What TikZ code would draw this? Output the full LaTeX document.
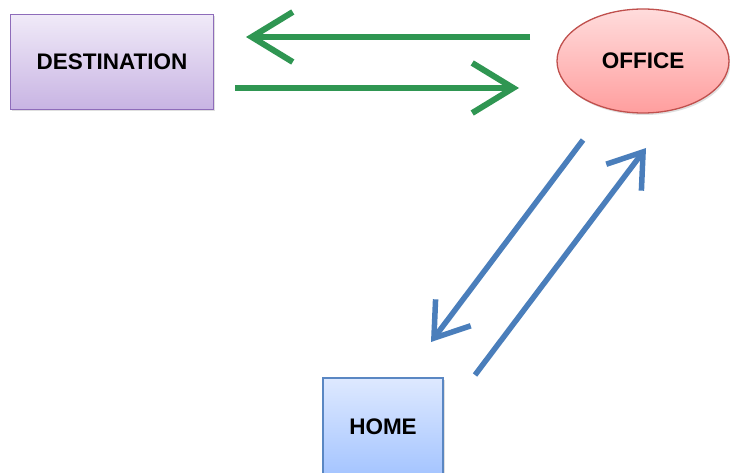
\documentclass[tikz,border=0pt]{standalone}
\usepackage{fontspec}
\setmainfont{Liberation Sans}
\usetikzlibrary{arrows.meta,shadows,shapes.geometric}
\definecolor{grn}{HTML}{2F9652}
\definecolor{blu}{HTML}{4A7EBB}
\definecolor{desttop}{HTML}{F0EAF8}
\definecolor{destbot}{HTML}{C8B4E3}
\definecolor{destline}{HTML}{8E6CBA}
\definecolor{offtop}{HTML}{FFDCDC}
\definecolor{offbot}{HTML}{FF9E9E}
\definecolor{offline}{HTML}{C0504D}
\definecolor{hometop}{HTML}{DEE9FF}
\definecolor{homebot}{HTML}{A4C4FF}
\definecolor{homeline}{HTML}{5A87C3}
\tikzset{
  lbl/.style={font=\fontsize{22.5}{25}\selectfont\bfseries, text=black},
  boxshadow/.style={drop shadow={opacity=0.25, shadow xshift=1.5pt, shadow yshift=-2pt}},
  destbox/.style={lbl, rectangle, draw=destline, line width=1.3pt,
    top color=desttop, bottom color=destbot, minimum width=203pt, minimum height=95pt, inner sep=0pt, boxshadow},
  offell/.style={lbl, ellipse, draw=offline, line width=1.3pt,
    top color=offtop, bottom color=offbot, minimum width=172pt, minimum height=104pt, inner sep=0pt, boxshadow},
  homebox/.style={lbl, rectangle, draw=homeline, line width=1.3pt,
    top color=hometop, bottom color=homebot, minimum width=120pt, minimum height=98pt, inner sep=0pt, boxshadow},
  garrow/.style={draw=grn, line width=6pt, -{Straight Barb[length=41pt,width=50pt,line width=6pt]}},
  barrow/.style={draw=blu, line width=5.5pt, -{Straight Barb[length=32pt,width=44pt,line width=5.5pt]}},
}
\begin{document}
\begin{tikzpicture}[x=1pt,y=-1pt]
\useasboundingbox[fill=white] (0,0) rectangle (730,473);
\node[destbox] (dest) at (112,62) {DESTINATION};
\node[offell] (off) at (643,61) {OFFICE};
\node[homebox] (home) at (383,427) {HOME};
\coordinate (g1s) at (530,37);
\coordinate (g1e) at (246,37);
\coordinate (g2s) at (235,88);
\coordinate (g2e) at (519,88);
\coordinate (b1s) at (583,140);
\coordinate (b1e) at (431,342);
\coordinate (b2s) at (475,375);
\coordinate (b2e) at (646,148);
\draw[garrow] (g1s) -- (g1e);
\draw[garrow] (g2s) -- (g2e);
\draw[barrow] (b1s) -- (b1e);
\draw[barrow] (b2s) -- (b2e);
\end{tikzpicture}
\end{document}
